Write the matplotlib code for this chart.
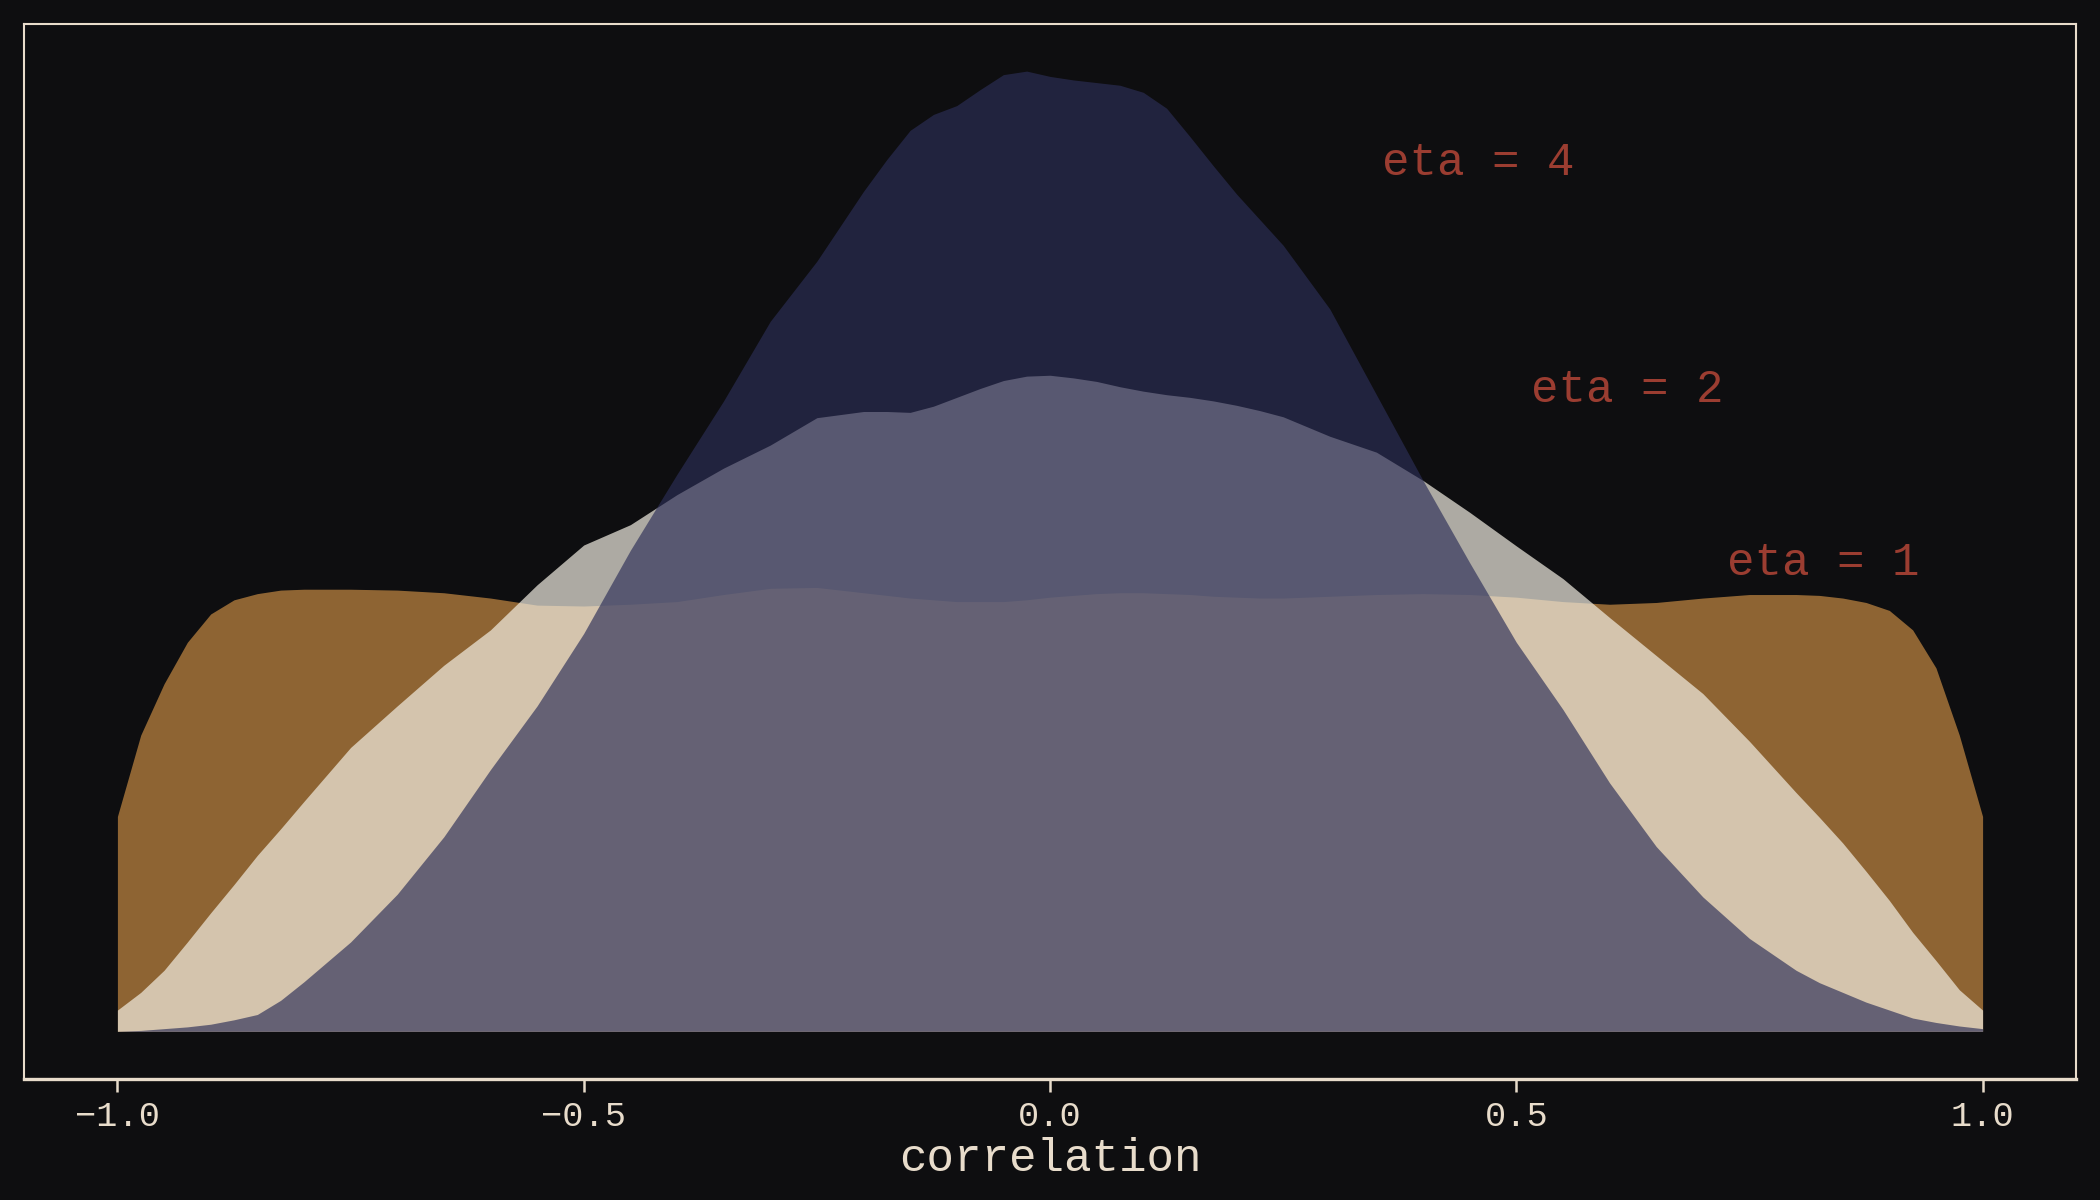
import numpy as np
import matplotlib.pyplot as plt

OUTPUT_PATH = "out.png"

# marginal correlation densities
x_grid = [-1.0, -0.975, -0.95, -0.925, -0.9, -0.875, -0.85, -0.825, -0.8,
          -0.75, -0.7, -0.65, -0.6, -0.55, -0.5, -0.45, -0.4, -0.35, -0.3, -0.25,
          -0.2, -0.175, -0.15, -0.125, -0.1, -0.075, -0.05, -0.025, 0.0,
          0.025, 0.05, 0.075, 0.1, 0.125, 0.15, 0.175, 0.2, 0.225,
          0.25, 0.3, 0.35, 0.4, 0.45, 0.5, 0.55, 0.6, 0.65, 0.7, 0.75,
          0.8, 0.825, 0.85, 0.875, 0.9, 0.925, 0.95, 0.975, 1.0]

dens_eta1 = [0.243, 0.335, 0.393, 0.44, 0.472, 0.488, 0.495, 0.499, 0.5,
             0.5, 0.499, 0.496, 0.49, 0.482, 0.481, 0.483, 0.486, 0.494, 0.501, 0.502,
             0.496, 0.493, 0.49, 0.488, 0.486, 0.486, 0.486, 0.488, 0.491,
             0.493, 0.495, 0.496, 0.496, 0.495, 0.494, 0.492, 0.491, 0.49,
             0.49, 0.492, 0.494, 0.495, 0.494, 0.491, 0.486, 0.483, 0.485, 0.49, 0.494,
             0.494, 0.493, 0.49, 0.485, 0.476, 0.454, 0.411, 0.335, 0.243]

dens_eta2 = [0.024, 0.044, 0.069, 0.101, 0.134, 0.166, 0.199, 0.229, 0.26,
             0.321, 0.368, 0.414, 0.454, 0.505, 0.55, 0.573, 0.607, 0.637, 0.663, 0.694,
             0.701, 0.701, 0.70, 0.707, 0.717, 0.727, 0.736, 0.741, 0.742,
             0.739, 0.735, 0.729, 0.724, 0.72, 0.717, 0.713, 0.708, 0.702,
             0.695, 0.673, 0.655, 0.623, 0.587, 0.549, 0.512, 0.468, 0.425, 0.382, 0.328,
             0.27, 0.242, 0.213, 0.181, 0.148, 0.112, 0.08, 0.047, 0.024]

dens_eta4 = [0.0, 0.001, 0.003, 0.005, 0.008, 0.013, 0.019, 0.035, 0.056,
             0.101, 0.155, 0.22, 0.296, 0.368, 0.45, 0.544, 0.63, 0.713, 0.803, 0.871,
             0.95, 0.986, 1.019, 1.037, 1.047, 1.065, 1.082, 1.086, 1.08,
             1.076, 1.073, 1.07, 1.062, 1.044, 1.012, 0.979, 0.947, 0.918,
             0.889, 0.817, 0.72, 0.623, 0.53, 0.44, 0.364, 0.281, 0.209, 0.152, 0.105,
             0.069, 0.055, 0.044, 0.033, 0.024, 0.015, 0.01, 0.006, 0.003]

labels = ["eta = 1", "eta = 2", "eta = 4"]
label_x = [0.726, 0.516, 0.356]
label_y = [0.53, 0.725, 0.982]

BG = "#0e0e10"
FG = "#e8dccb"
TEXT_RED = "#9b3d31"
colors = ["#c58a43", "#f2eee2", "#2c2e57"]
alphas = [0.7, 0.7, 0.66]


def main():
    plt.rcParams["font.family"] = ["Liberation Mono", "DejaVu Sans Mono"]

    fig = plt.figure(figsize=(14, 8), dpi=150, facecolor=BG)
    ax = fig.add_axes([0.0115, 0.1008, 0.977, 0.879])
    ax.set_facecolor(BG)

    for dens, col, a in zip([dens_eta1, dens_eta2, dens_eta4], colors, alphas):
        ax.fill_between(x_grid, 0, dens, color=col, alpha=a, linewidth=0)

    for lab, lx, ly in zip(labels, label_x, label_y):
        ax.text(lx, ly, lab, color=TEXT_RED, fontsize=22, ha="left", va="center")

    ax.set_xlim(-1.1, 1.1)
    ax.set_ylim(-0.054, 1.139)
    ax.set_yticks([])
    ax.set_xticks([-1.0, -0.5, 0.0, 0.5, 1.0])
    ax.tick_params(axis="x", colors=FG, labelsize=17, length=6, width=1.2, pad=4)
    for sp in ax.spines.values():
        sp.set_color(FG)
        sp.set_linewidth(1.0)
    ax.spines["bottom"].set_linewidth(1.6)
    ax.set_xlabel("correlation", color=FG, fontsize=22, labelpad=2)

    fig.savefig(OUTPUT_PATH, facecolor=BG)
    plt.close(fig)


if __name__ == "__main__":
    main()
